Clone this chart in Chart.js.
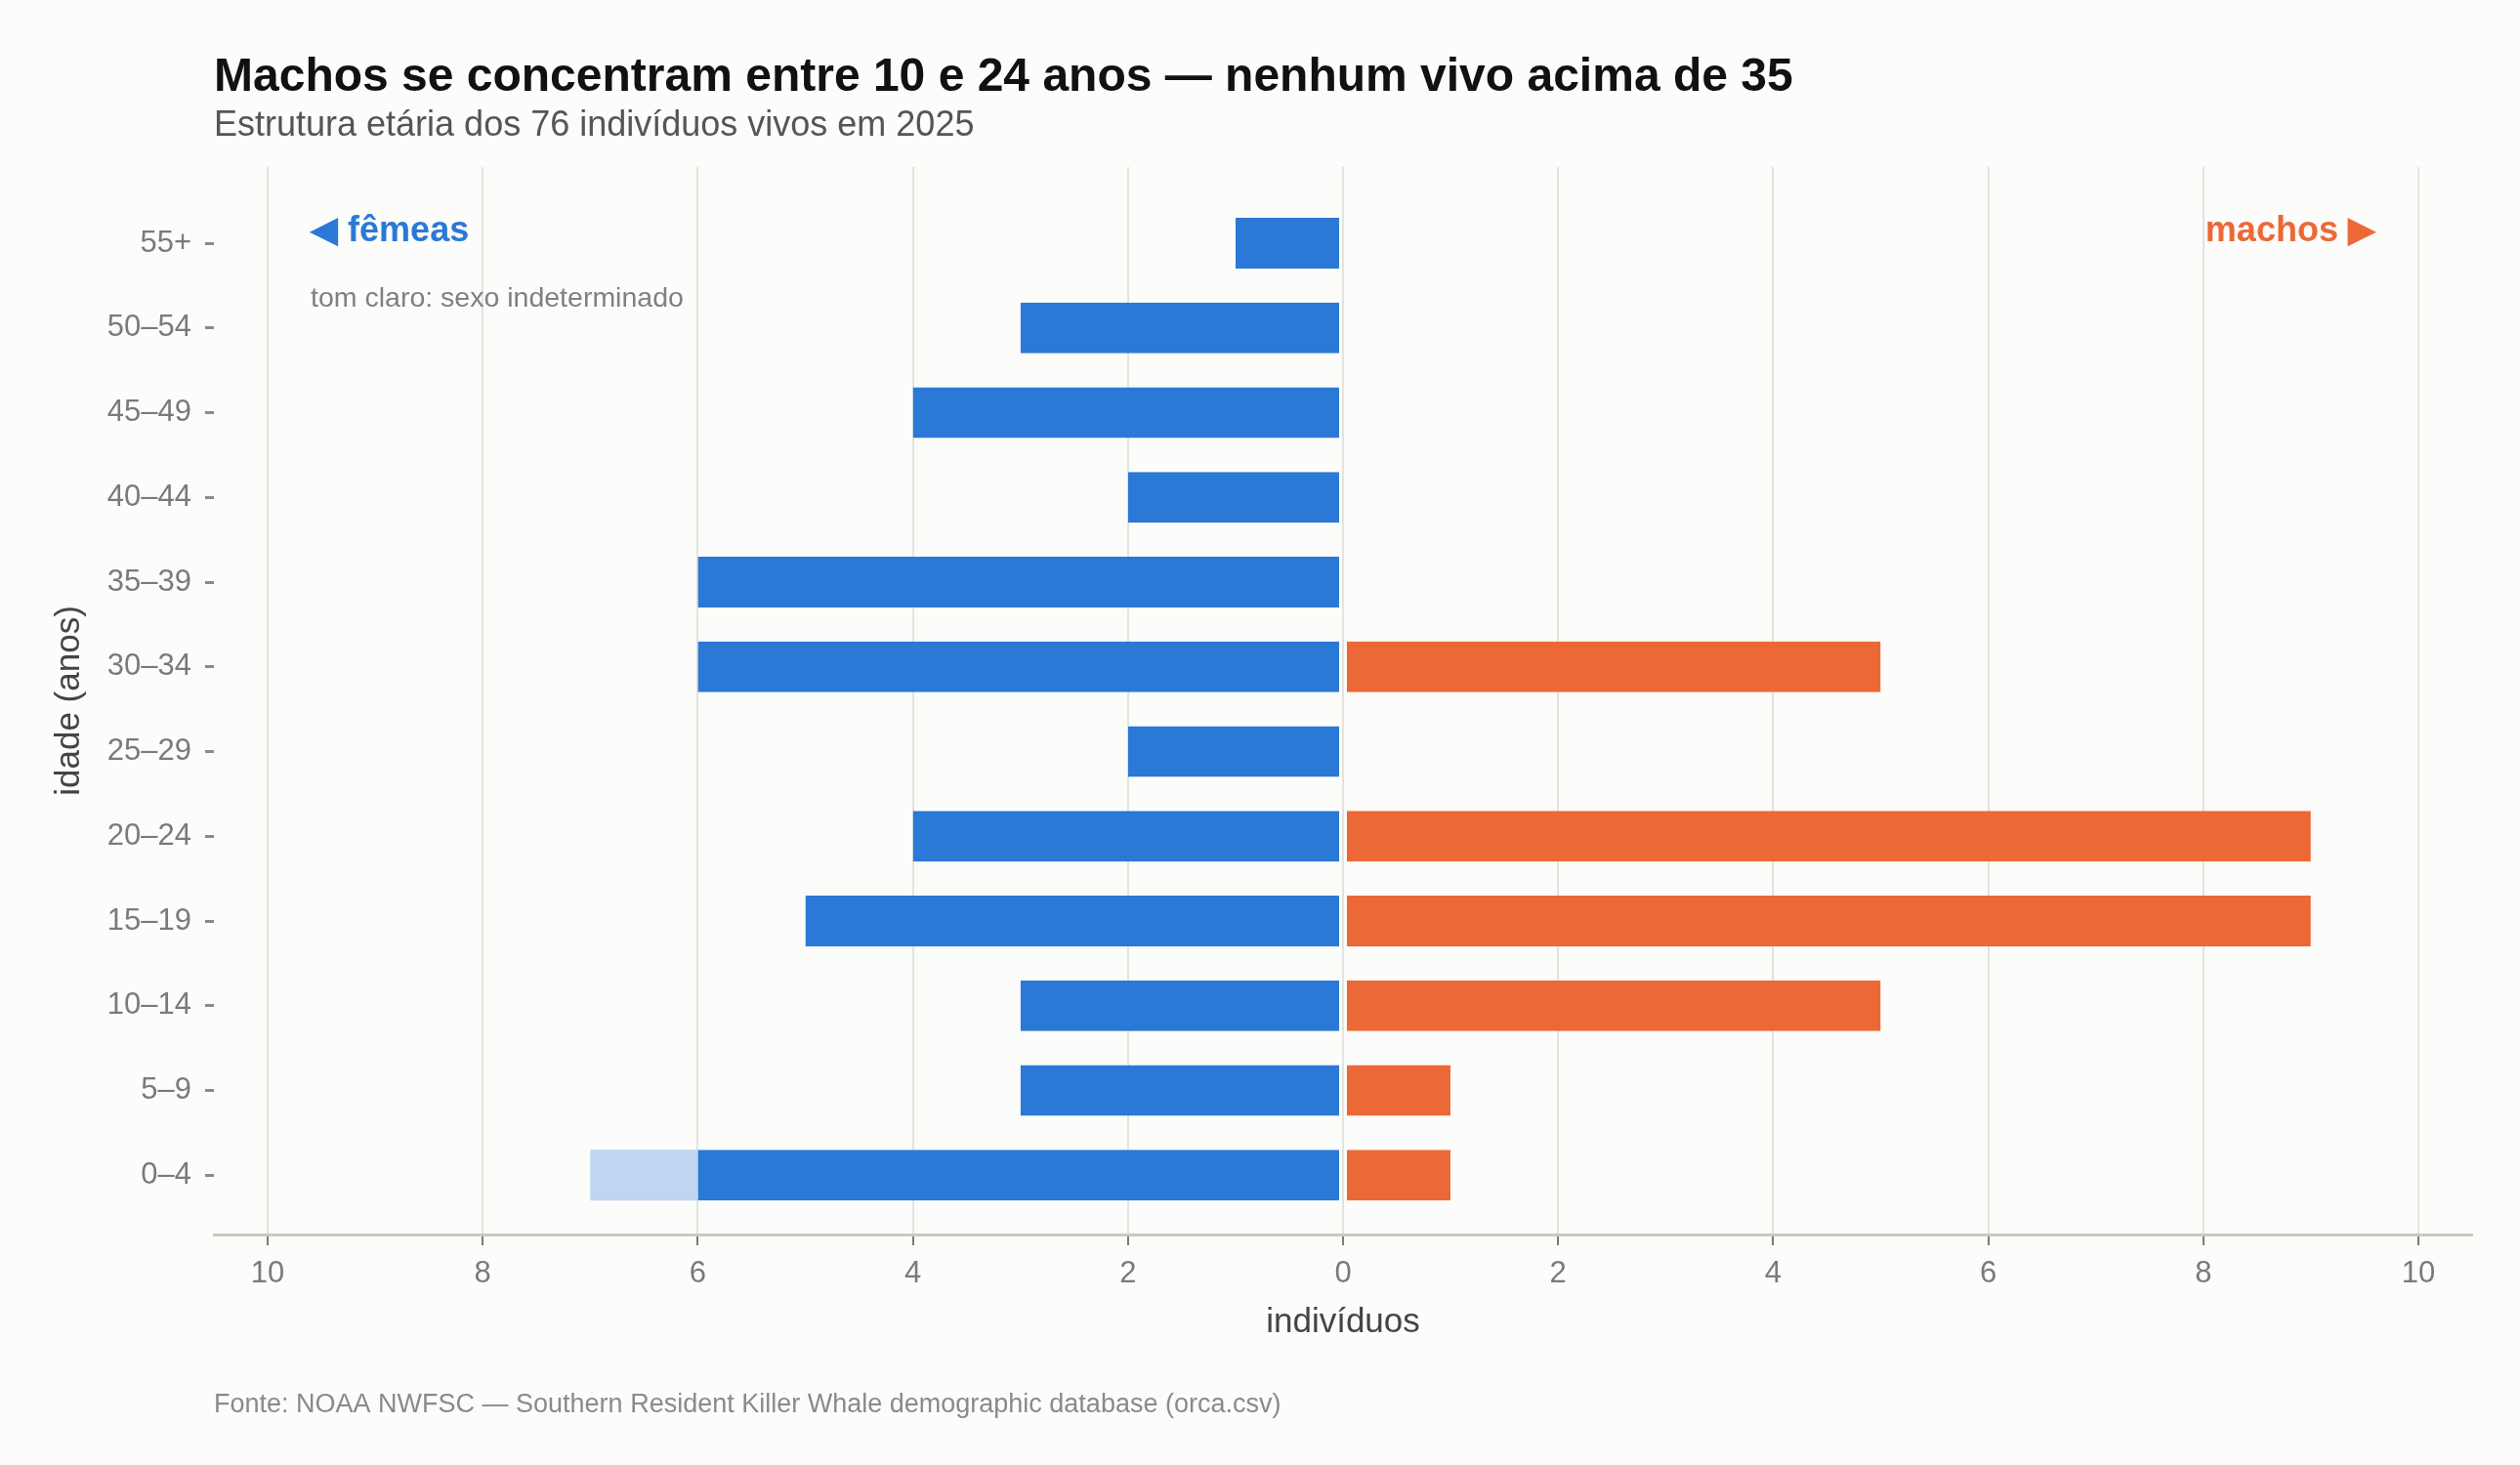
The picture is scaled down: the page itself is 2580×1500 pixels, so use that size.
<!DOCTYPE html>
<html>
<head>
<meta charset="utf-8">
<script src="https://cdn.jsdelivr.net/npm/chart.js@4"></script>
<style>
  html, body { margin: 0; padding: 0; background: #fcfcfa; }
  #wrap { width: 2580px; height: 1500px; position: relative; }
</style>
</head>
<body>
<div id="wrap"><canvas id="pyramid"></canvas></div>
<script>
// faixas etárias, de baixo para cima
var ageGroups = ['0–4', '5–9', '10–14', '15–19', '20–24', '25–29', '30–34', '35–39', '40–44', '45–49', '50–54', '55+'];
var females = [6, 3, 3, 5, 4, 2, 6, 6, 2, 4, 3, 1];
var undetermined = [1, 0, 0, 0, 0, 0, 0, 0, 0, 0, 0, 0];
var males = [1, 1, 5, 9, 9, 0, 5, 0, 0, 0, 0, 0];
var xTickValues = [-10, -8, -6, -4, -2, 0, 2, 4, 6, 8, 10];

var BLUE = '#2a79d6';
var ORANGE = '#ec6836';
var LIGHT = '#bfd5f2';
var BG = '#fcfcfa';
var FONT = '"Liberation Sans", Arial, Helvetica, sans-serif';

function toPoints(values, sign) {
    return values
        .map(function (v, i) { return { x: sign * v, y: i }; })
        .filter(function (d) { return d.x !== 0; });
}

// textos fora do gráfico + anotações
var textPlugin = {
    id: 'texts',
    beforeDraw: function (chart) {
        var ctx = chart.ctx;
        ctx.save();
        ctx.fillStyle = BG;
        ctx.fillRect(0, 0, chart.width, chart.height);
        ctx.restore();
    },
    afterDraw: function (chart) {
        var ctx = chart.ctx;
        var area = chart.chartArea;
        var xs = chart.scales.x, ys = chart.scales.y;
        ctx.save();
        ctx.textBaseline = 'middle';
        ctx.textAlign = 'left';

        ctx.fillStyle = '#111111';
        ctx.font = 'bold 48px ' + FONT;
        ctx.fillText('Machos se concentram entre 10 e 24 anos — nenhum vivo acima de 35', area.left, 80);

        ctx.fillStyle = '#555555';
        ctx.font = '36px ' + FONT;
        ctx.fillText('Estrutura etária dos 76 indivíduos vivos em 2025', area.left, 129);

        ctx.fillStyle = '#8a8a8a';
        ctx.font = '27px ' + FONT;
        ctx.fillText('Fonte: NOAA NWFSC — Southern Resident Killer Whale demographic database (orca.csv)', area.left, 1439);

        ctx.fillStyle = BLUE;
        ctx.font = 'bold 36px ' + FONT;
        ctx.fillText('◀ fêmeas', xs.getPixelForValue(-9.6), ys.getPixelForValue(11.14));

        ctx.fillStyle = '#808080';
        ctx.font = '28.5px ' + FONT;
        ctx.fillText('tom claro: sexo indeterminado', xs.getPixelForValue(-9.6), ys.getPixelForValue(10.34));

        ctx.textAlign = 'right';
        ctx.fillStyle = ORANGE;
        ctx.font = 'bold 36px ' + FONT;
        ctx.fillText('machos ▶', xs.getPixelForValue(9.6), ys.getPixelForValue(11.14));
        ctx.restore();
    }
};

new Chart('pyramid', {
    type: 'bar',
    data: {
        datasets: [{
            label: 'fêmeas',
            data: toPoints(females, -1),
            backgroundColor: BLUE,
            borderColor: BG,
            borderWidth: { left: 0, right: 3, top: 0, bottom: 0 },
            borderSkipped: false
        }, {
            label: 'indeterminado',
            data: toPoints(undetermined, -1),
            backgroundColor: LIGHT,
            borderWidth: 0
        }, {
            label: 'machos',
            data: toPoints(males, 1),
            backgroundColor: ORANGE,
            borderColor: BG,
            borderWidth: { left: 3, right: 0, top: 0, bottom: 0 },
            borderSkipped: false
        }]
    },
    options: {
        indexAxis: 'y',
        responsive: true,
        maintainAspectRatio: false,
        devicePixelRatio: 1,
        animation: false,
        barPercentage: 0.6,
        categoryPercentage: 1,
        layout: { padding: { top: 171, right: 49, bottom: 0, left: 0 } },
        plugins: {
            legend: { display: false },
            tooltip: { enabled: false }
        },
        scales: {
            x: {
                type: 'linear',
                stacked: true,
                min: -10.5,
                max: 10.5,
                afterBuildTicks: function (scale) {
                    scale.ticks = xTickValues.map(function (v) { return { value: v }; });
                },
                afterFit: function (scale) { scale.height = 236; },
                ticks: {
                    autoSkip: false,
                    maxRotation: 0,
                    padding: 11,
                    color: '#7a7a7a',
                    font: { family: FONT, size: 31 },
                    callback: function (v) { return Math.abs(v); }
                },
                grid: {
                    color: '#e3e3df',
                    lineWidth: 2,
                    drawTicks: true,
                    tickLength: 11,
                    tickColor: '#7a7a7a',
                    tickWidth: 2
                },
                border: { display: true, color: '#c9c9c4', width: 3 },
                title: {
                    display: true,
                    text: 'indivíduos',
                    color: '#444444',
                    font: { family: FONT, size: 35 },
                    padding: { top: 0, bottom: 125 }
                }
            },
            y: {
                type: 'linear',
                stacked: true,
                offset: false,
                min: -0.7,
                max: 11.9,
                afterBuildTicks: function (scale) {
                    scale.ticks = ageGroups.map(function (g, i) { return { value: i }; });
                },
                afterFit: function (scale) { scale.width = 219; },
                ticks: {
                    autoSkip: false,
                    padding: 14,
                    color: '#7a7a7a',
                    font: { family: FONT, size: 31 },
                    callback: function (v) { return ageGroups[v]; }
                },
                grid: {
                    offset: false,
                    drawOnChartArea: false,
                    drawTicks: true,
                    tickLength: 9,
                    tickColor: '#8a8a8a',
                    tickWidth: 3
                },
                border: { display: false },
                title: {
                    display: true,
                    text: 'idade (anos)',
                    color: '#444444',
                    font: { family: FONT, size: 35 },
                    padding: { top: 50, bottom: 0 }
                }
            }
        }
    },
    plugins: [textPlugin]
});
</script>
</body>
</html>
